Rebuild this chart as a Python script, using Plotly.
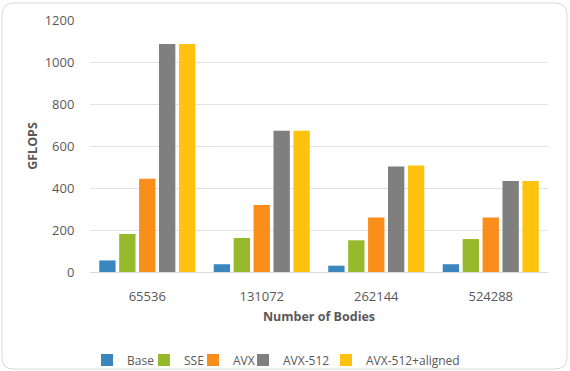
import plotly.graph_objects as go

categories = ["65536", "131072", "262144", "524288"]
series_names = ["Base", "SSE", "AVX", "AVX-512", "AVX-512+aligned"]
base = [55, 37, 30, 37]
sse = [181, 162, 151, 157]
avx = [444, 319, 259, 259]
avx512 = [1086, 673, 502, 433]
avx512_aligned = [1086, 673, 507, 433]
colors = ["#3A86BF", "#97B92C", "#FA8E1A", "#7F7F7F", "#FFC20E"]

values = [base, sse, avx, avx512, avx512_aligned]

W, H = 570, 371
L, R, T, B = 90, 22, 20, 99
pw, ph = W - L - R, H - T - B

def px(x):
    return (x - L) / pw

def py(y):
    return (H - B - y) / ph

legend_text_px = [121, 178, 227, 277, 360]
legend_ids = ["legend", "legend2", "legend3", "legend4", "legend5"]

fig = go.Figure()
for name, vals, col, lid in zip(series_names, values, colors, legend_ids):
    fig.add_trace(go.Bar(x=categories, y=vals, name=name, legend=lid,
                         marker=dict(color=col, line=dict(width=0))))

# rounded border around the chart
x0, x1, y0, y1, r = 2, 567, 3, 369, 12
path = (f"M {px(x0 + r)} {py(y0)} L {px(x1 - r)} {py(y0)} Q {px(x1)} {py(y0)} {px(x1)} {py(y0 + r)} "
        f"L {px(x1)} {py(y1 - r)} Q {px(x1)} {py(y1)} {px(x1 - r)} {py(y1)} "
        f"L {px(x0 + r)} {py(y1)} Q {px(x0)} {py(y1)} {px(x0)} {py(y1 - r)} "
        f"L {px(x0)} {py(y0 + r)} Q {px(x0)} {py(y0)} {px(x0 + r)} {py(y0)} Z")

legends = {}
for lid, tx in zip(legend_ids, legend_text_px):
    legends[lid] = dict(orientation="h", x=px(tx - 34), xanchor="left", y=py(360), yanchor="middle",
                        font=dict(size=12, color="#595959"), itemwidth=30,
                        bgcolor="rgba(0,0,0,0)", borderwidth=0)

fig.update_layout(
    width=W, height=H,
    margin=dict(l=L, r=R, t=T, b=B, autoexpand=False),
    paper_bgcolor="white", plot_bgcolor="white",
    font=dict(family="Open Sans", size=12, color="#595959"),
    barmode="group", bargap=0.13, bargroupgap=0.18,
    shapes=[dict(type="path", path=path, xref="paper", yref="paper",
                 line=dict(color="#D9D9D9", width=1), fillcolor="rgba(0,0,0,0)", layer="below")],
    showlegend=True,
    **legends,
)
fig.update_xaxes(automargin=False, showline=True, linecolor="#D9D9D9", linewidth=1, showgrid=False,
                 ticks="outside", ticklen=12, tickcolor="rgba(0,0,0,0)",
                 tickfont=dict(size=13, color="#595959"),
                 title=dict(text="<b>Number of Bodies</b>", font=dict(size=12.5, color="#595959"), standoff=8))
fig.update_yaxes(automargin=False, range=[0, 1200], dtick=200, showgrid=True, gridcolor="#E3E3E3", gridwidth=1,
                 zeroline=False, showline=False,
                 ticks="outside", ticklen=12, tickcolor="rgba(0,0,0,0)",
                 tickfont=dict(size=13, color="#595959"),
                 title=dict(text="<b>GFLOPS</b>", font=dict(size=12.5, color="#595959"), standoff=4))

fig.write_html("out.html")
